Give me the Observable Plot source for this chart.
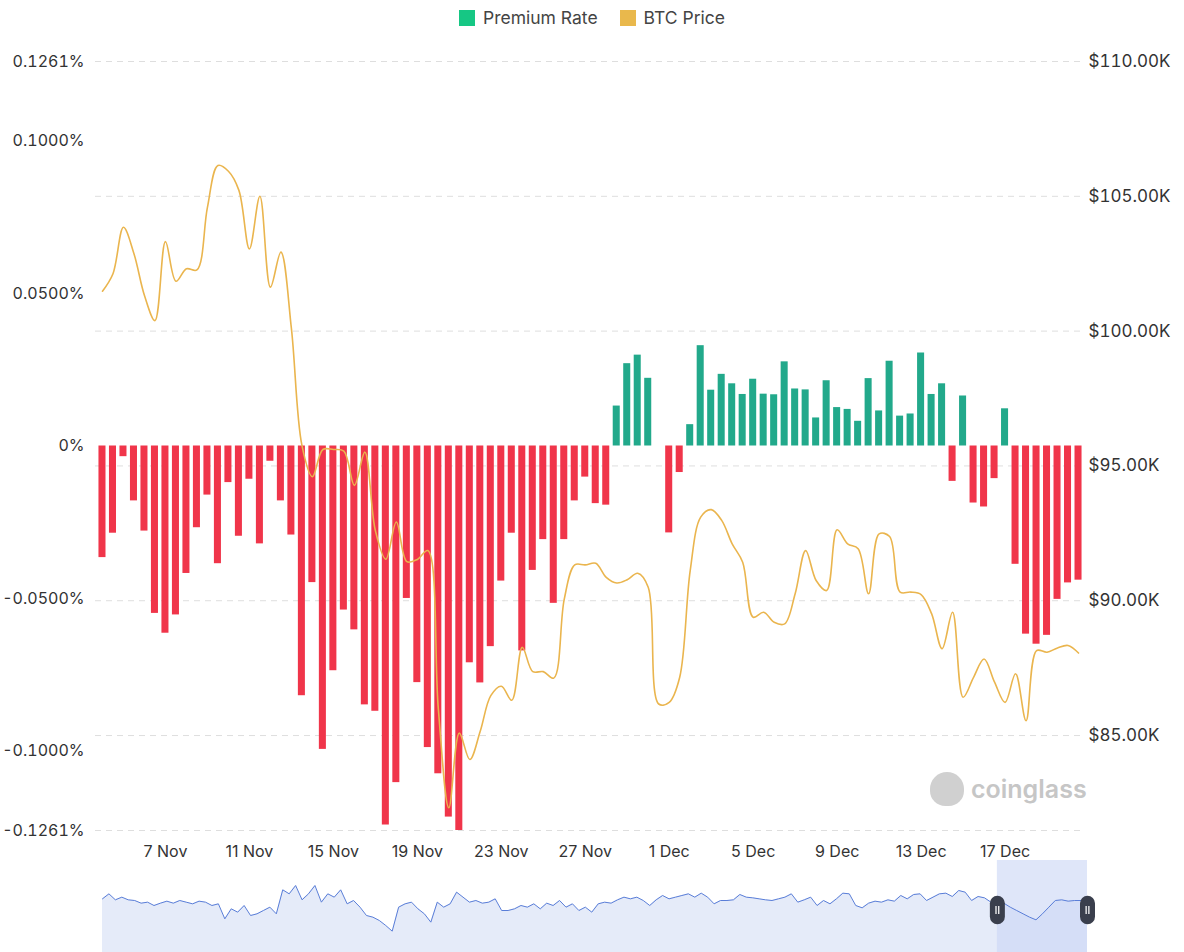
<!DOCTYPE html>
<html><head><meta charset="utf-8">
<script src="https://cdn.jsdelivr.net/npm/d3@7"></script>
<script src="https://cdn.jsdelivr.net/npm/@observablehq/plot@0.6"></script>
<style>
body{margin:0;background:#fff;font-family:Inter,"Noto Sans",sans-serif;}
#wrap{position:relative;width:1184px;height:952px;overflow:hidden;background:#fff;}
#legend{position:absolute;top:7px;left:0;width:1184px;display:flex;justify-content:center;gap:22px;font-size:17.5px;color:#444;z-index:2;}
.item{display:flex;align-items:center;gap:8px;line-height:22px}
.sw{width:16px;height:16px;display:inline-block}
#main{position:absolute;left:0;top:0}
#ov{position:absolute;left:0;top:860px}
#wm{position:absolute;left:930px;top:772px;display:flex;align-items:center;gap:7px;color:#c6c6c6;font-size:25px;font-weight:600;z-index:2}
#wm .ic{width:34px;height:34px;border-radius:50% 50% 45% 45%;background:#d0d0d0}
</style></head>
<body><div id="wrap">
<div id="legend">
  <div class="item"><span class="sw" style="background:#16c784"></span>Premium Rate</div>
  <div class="item"><span class="sw" style="background:#e9b84c"></span>BTC Price</div>
</div>
<div id="main"></div>
<div id="ov"></div>
<div id="wm"><div class="ic"></div><span>coinglass</span></div>
</div>
<script>
// Premium rate (%), one value every 12 hours from 4 Nov 00:00
const premiumRate = [
 -0.0366,-0.0286,-0.0035,-0.0180,-0.0279,-0.0549,-0.0614,-0.0554,-0.0418,-0.0268,
 -0.0161,-0.0386,-0.0120,-0.0296,-0.0109,-0.0321,-0.0050,-0.0180,-0.0292,-0.0819,
 -0.0448,-0.0995,-0.0737,-0.0538,-0.0603,-0.0849,-0.0870,-0.1243,-0.1104,-0.0500,
 -0.0776,-0.0989,-0.1075,-0.1217,-0.1261,-0.0711,-0.0777,-0.0658,-0.0443,-0.0286,
 -0.0672,-0.0408,-0.0307,-0.0516,-0.0307,-0.0180,-0.0102,-0.0189,-0.0194, 0.0131,
  0.0270, 0.0298, 0.0222, 0.0000,-0.0285,-0.0087, 0.0070, 0.0329, 0.0183, 0.0235,
  0.0204, 0.0169, 0.0219, 0.0170, 0.0168, 0.0276, 0.0187, 0.0184, 0.0092, 0.0214,
  0.0126, 0.0120, 0.0081, 0.0221, 0.0115, 0.0278, 0.0098, 0.0105, 0.0305, 0.0169,
  0.0204,-0.0116, 0.0164,-0.0187,-0.0200,-0.0107, 0.0122,-0.0388,-0.0617,-0.0650,
 -0.0621,-0.0503,-0.0449,-0.0440
];
// BTC price (USD), same timestamps
const btcPrice = [
 101480,102130,103850,102870,101320,100390,103320,101850,102310,102270,
 104590,106140,105930,105220,103050,105000,101630,102930,100100, 95770,
  94600, 95610, 95610, 95550, 94280, 95510, 92600, 91540, 92920, 91450,
  91530, 91860, 85990, 82320, 85090, 84110, 85170, 86480, 86830, 86310,
  88270, 87370, 87370, 87130, 90060, 91330, 91330, 91390, 90870, 90660,
  90780, 91020, 90500, 86170, 86230, 87160, 91120, 93100, 93380, 92980,
  92110, 91430, 89390, 89570, 89200, 89140, 90260, 91860, 90750, 90380,
  92630, 92110, 91930, 90260, 92480, 92380, 90320, 90320, 90230, 89520,
  88220, 89570, 86420, 87160, 87840, 86980, 86230, 87290, 85550, 88150,
  88090, 88250, 88340, 88060
];
// overview (brush) series, arbitrary height units
const overview = [
 161,176,158,166,158,156,148,151,141,148,154,148,156,151,146,154,151,141,146,101,
 131,121,141,111,116,126,136,116,188,176,201,158,176,201,151,176,166,188,146,156,
 136,111,106,96,81,64,136,146,151,131,116,91,151,136,146,181,166,151,156,148,
 151,161,126,126,131,141,136,146,131,148,141,156,136,146,126,136,121,146,151,148,
 158,166,161,166,156,141,158,171,161,166,171,176,166,178,166,146,156,156,158,174,
 166,164,161,158,156,161,166,176,151,158,166,141,156,146,161,178,176,141,134,148,
 154,151,158,154,171,161,174,176,156,166,176,178,168,186,181,156,168,164,151,146,
 148,136,126,116,106,98,116,136,156,158,154,156,156,154
];
const brushWindow = [139, 153];

const rateTicks = [-0.1261, -0.1, -0.05, 0, 0.05, 0.1, 0.1261];
const priceTicks = [85000, 90000, 95000, 100000, 105000, 110000];
const rateDomain = [-0.1261, 0.1261];
const priceDomain = [81478, 110000];
const xTickLabels = ["7 Nov","11 Nov","15 Nov","19 Nov","23 Nov","27 Nov","1 Dec","5 Dec","9 Dec","13 Dec","17 Dec"];

const start = Date.UTC(2025, 10, 4);
const times = premiumRate.map((_, i) => new Date(start + i * 12 * 3600e3));
const data = times.map((t, i) => ({t, rate: premiumRate[i], price: btcPrice[i]}));
const fmtDay = d3.utcFormat("%-d %b");
const tickTimes = times.filter(t => t.getUTCHours() === 0 && xTickLabels.includes(fmtDay(t)));

const yPrice = d3.scaleLinear().domain(priceDomain).range(rateDomain);

const green = "#22a98b", red = "#f0354a", gold = "#eab54e";
const font = 'Inter, "Noto Sans", sans-serif';

const chart = Plot.plot({
  width: 1184, height: 862,
  marginTop: 61, marginBottom: 32, marginLeft: 95, marginRight: 99,
  style: {fontFamily: font, fontSize: "16px", color: "#333", background: "transparent"},
  x: {type: "band", domain: times, padding: 0.33, label: null},
  y: {domain: rateDomain, label: null},
  marks: [
    Plot.gridY([...priceTicks, priceDomain[0]].map(yPrice), {stroke: "#dedede", strokeOpacity: 1, strokeDasharray: "6,5"}),
    Plot.barY(data.filter(d => d.rate >= 0), {x: "t", y: "rate", fill: green}),
    Plot.barY(data.filter(d => d.rate < 0), {x: "t", y: "rate", fill: red}),
    Plot.line(data, {x: "t", y: d => yPrice(d.price), stroke: gold, strokeWidth: 1.6, curve: "catmull-rom"}),
    Plot.axisY(rateTicks, {anchor: "left", tickSize: 0, tickPadding: 11, fontSize: 16, style: {letterSpacing: "-0.45px"},
      tickFormat: d => d === 0 ? "0%" : d.toFixed(4) + "%"}),
    Plot.axisY(priceTicks.map(yPrice), {anchor: "right", tickSize: 0, tickPadding: 3, fontSize: 17, style: {letterSpacing: "0.3px"},
      tickFormat: d => "$" + (yPrice.invert(d) / 1000).toFixed(2) + "K"}),
    Plot.axisX(tickTimes, {tickSize: 0, tickPadding: 15, fontSize: 16, tickFormat: fmtDay})
  ]
});
document.getElementById("main").appendChild(chart);

const ovData = overview.map((v, i) => ({i, v}));
const n = overview.length - 1;
const ov = Plot.plot({
  width: 1184, height: 92,
  marginTop: 0, marginBottom: 0, marginLeft: 102, marginRight: 97,
  style: {background: "transparent"},
  x: {domain: [0, n], axis: null},
  y: {domain: [0, 276], axis: null},
  marks: [
    Plot.areaY(ovData, {x: "i", y: "v", fill: "#e5ebf9"}),
    Plot.rect([brushWindow], {x1: d => d[0], x2: d => d[1], y1: 0, y2: 276, fill: "#c9d6f5", fillOpacity: 0.6}),
    Plot.line(ovData, {x: "i", y: "v", stroke: "#5a7ed8", strokeWidth: 1}),
    Plot.ruleX(brushWindow, {y1: 106, y2: 146, stroke: "#3a3f4d", strokeWidth: 15, strokeLinecap: "round"}),
    Plot.ruleX(brushWindow, {y1: 114, y2: 138, stroke: "#ffffff", strokeWidth: 4}),
    Plot.ruleX(brushWindow, {y1: 114, y2: 138, stroke: "#3a3f4d", strokeWidth: 1.5})
  ]
});
document.getElementById("ov").appendChild(ov);
</script>
</body></html>
